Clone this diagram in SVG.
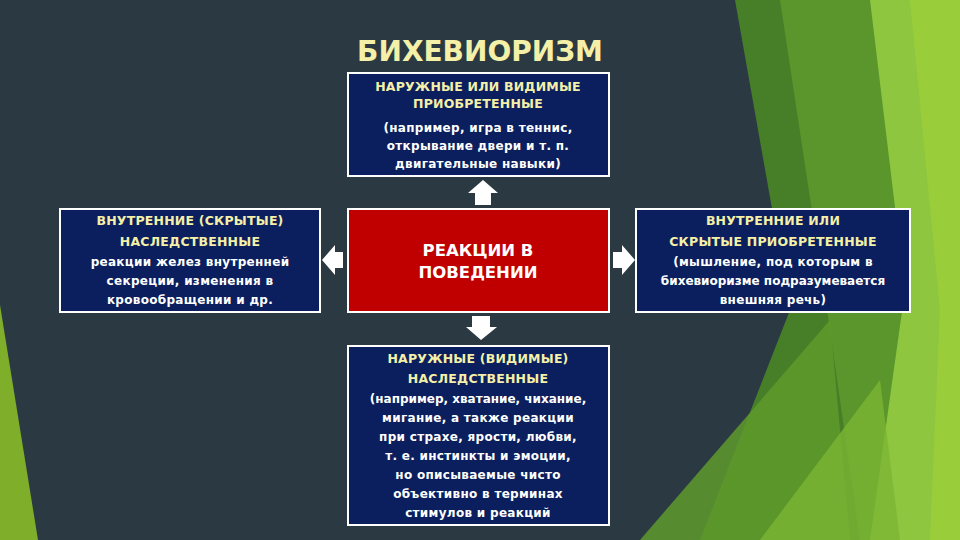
<svg xmlns="http://www.w3.org/2000/svg" width="960" height="540" viewBox="0 0 960 540">
<style>
.box{fill:#0b1f5e;stroke:#fff;stroke-width:2}
text{font-family:"DejaVu Sans","Liberation Sans",sans-serif;font-weight:bold;text-anchor:middle}
.h{fill:#f4f0a8;font-size:12.5px;letter-spacing:0.2px}
.b{fill:#fff;font-size:12px;letter-spacing:0.3px}
.arr{fill:#fff}
</style>
<rect width="960" height="540" fill="#2b3a42"/>
<polygon points="0,305 38,540 0,540" fill="#7fae2a"/>
<polygon points="735,0 960,0 960,540 700,540 790,310" fill="#467f27"/>
<polygon points="780,0 880,0 960,330 960,540 860,540 830,330" fill="#5a962b"/>
<polygon points="870,0 960,0 960,540 870,540 905,290" fill="#8ec63f"/>
<polygon points="640,540 830,320 850,540" fill="#5f9a2d" opacity="0.85"/>
<polygon points="760,540 880,380 900,540" fill="#7cb535" opacity="0.8"/>
<polygon points="910,0 960,0 960,540 930,540 940,310" fill="#9acd3a"/>
<text x="480" y="61" style="font-size:28px;fill:#f4f0a8">БИХЕВИОРИЗМ</text>
<g id="top"><rect class="box" x="348" y="73" width="261" height="103"/>
<text class="h" x="478" y="91">НАРУЖНЫЕ ИЛИ ВИДИМЫЕ</text>
<text class="h" x="478" y="108">ПРИОБРЕТЕННЫЕ</text>
<text class="b" x="478" y="132">(например, игра в теннис,</text>
<text class="b" x="478" y="150">открывание двери и т. п.</text>
<text class="b" x="478" y="168">двигательные навыки)</text></g>
<g id="left"><rect class="box" x="60" y="209" width="260" height="103"/>
<text class="h" x="190" y="225">ВНУТРЕННИЕ (СКРЫТЫЕ)</text>
<text class="h" x="190" y="246">НАСЛЕДСТВЕННЫЕ</text>
<text class="b" x="190" y="266">реакции  желез внутренней</text>
<text class="b" x="190" y="285">секреции, изменения в</text>
<text class="b" x="190" y="304">кровообращении и др.</text></g>
<g id="center"><rect x="348" y="209" width="261" height="103" fill="#c00000" stroke="#fff" stroke-width="2"/>
<text x="478" y="256" style="font-size:16.5px;fill:#fff">РЕАКЦИИ В</text>
<text x="478" y="278" style="font-size:16.5px;fill:#fff">ПОВЕДЕНИИ</text></g>
<g id="right"><rect class="box" x="636" y="209" width="274" height="103"/>
<text class="h" x="773" y="225">ВНУТРЕННИЕ ИЛИ</text>
<text class="h" x="773" y="246">СКРЫТЫЕ ПРИОБРЕТЕННЫЕ</text>
<text class="b" x="773" y="266">(мышление, под которым в</text>
<text class="b" x="773" y="285" style="letter-spacing:0">бихевиоризме подразумевается</text>
<text class="b" x="773" y="304">внешняя  речь)</text></g>
<g id="bottom"><rect class="box" x="348" y="346" width="261" height="179"/>
<text class="h" x="478" y="363">НАРУЖНЫЕ (ВИДИМЫЕ)</text>
<text class="h" x="478" y="383">НАСЛЕДСТВЕННЫЕ</text>
<text class="b" x="478" y="403" style="letter-spacing:0">(например, хватание, чихание,</text>
<text class="b" x="478" y="422">мигание, а также реакции</text>
<text class="b" x="478" y="441">при страхе, ярости, любви,</text>
<text class="b" x="478" y="460">т. е. инстинкты и эмоции,</text>
<text class="b" x="478" y="479">но описываемые чисто</text>
<text class="b" x="478" y="498">объективно в терминах</text>
<text class="b" x="478" y="517">стимулов и реакций</text></g>
<g id="connectors">
<polygon class="arr" points="483,180 498,193 491,193 491,205 475,205 475,193 468,193"/>
<polygon class="arr" points="322,260 335,245 335,252 343,252 343,268 335,268 335,275"/>
<polygon class="arr" points="635,260 622,245 622,252 613,252 613,268 622,268 622,275"/>
<polygon class="arr" points="481,340 466,327 472,327 472,316 490,316 490,327 497,327"/>
</g>
</svg>
